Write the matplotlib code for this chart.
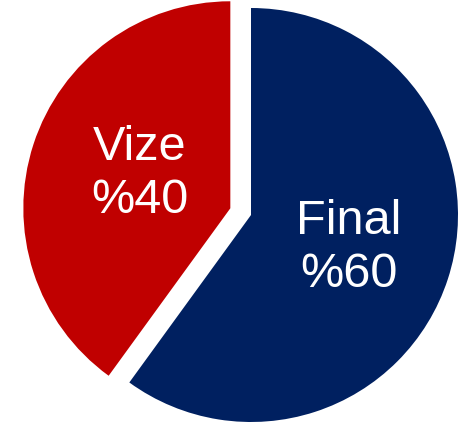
import matplotlib
matplotlib.use("Agg")
import matplotlib.pyplot as plt

categories = ["Final", "Vize"]
values = [60, 40]
labels = ["Final\n%60", "Vize\n%40"]
colors = ["#002060", "#C00000"]
explode = [0, 0.105]

W, H = 477, 427
fig = plt.figure(figsize=(W / 100, H / 100), dpi=100)
ax = fig.add_axes([0, 0, 1, 1])

# pixel geometry of the pie
cx, cy, r = 251, 216, 207
ax.pie(values, colors=colors, explode=explode, startangle=90,
       counterclock=False, radius=1.0,
       wedgeprops=dict(linewidth=0))
ax.set_aspect("auto")
ax.set_xlim(-cx / r, (W - cx) / r)
ax.set_ylim(-(H - cy) / r, cy / r)
ax.axis("off")

label_pos = {"Final": (349, 248), "Vize": (140, 174)}
for cat, lab in zip(categories, labels):
    px, py = label_pos[cat]
    fig.text(px / W, 1 - py / H, lab, ha="center", va="center",
             multialignment="center", color="white", fontsize=35,
             family="Liberation Sans", linespacing=1.22)

fig.savefig("out.png", dpi=100, facecolor="white")
